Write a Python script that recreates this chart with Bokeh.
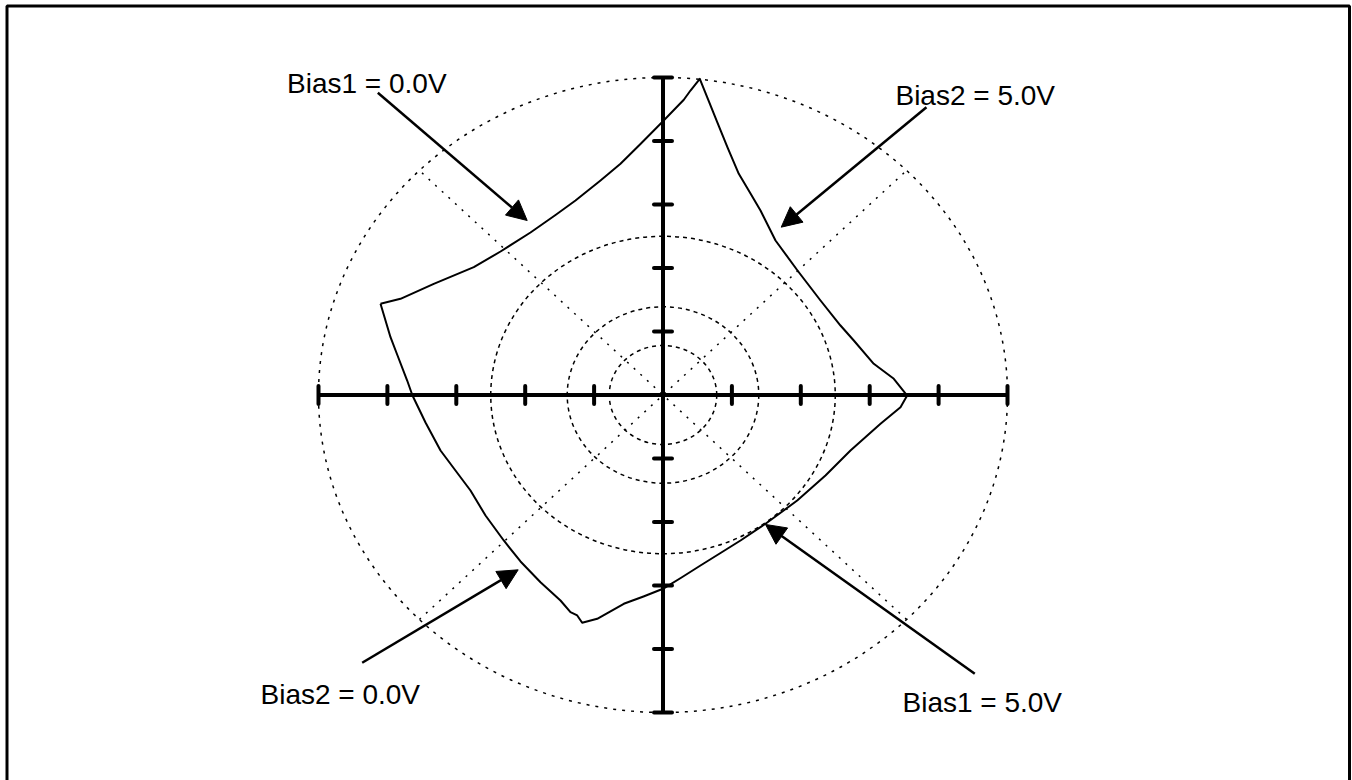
import math
from bokeh.plotting import figure
from bokeh.models import Range1d, Arrow, NormalHead, ColumnDataSource
from bokeh.core.properties import value
from bokeh.embed import file_html
from bokeh.resources import INLINE

# ---------------- data ----------------
ring_radii = [0.78, 1.39, 2.5, 5.0]
ring_dash = ["4 4", "4 4", "4 4", "3 6"]
axis_limit = 5
tick_vals = [-5, -4, -3, -2, -1, 1, 2, 3, 4, 5]
diag_angles_deg = [45, 135]

# closed response curve (x, y in chart units)
seg_a_x = [-4.10, -3.81, -3.327, -2.746, -2.358, -1.923, -1.560, -1.270, -0.907, -0.617,
           -0.327, -0.036, 0.302, 0.399, 0.534]
seg_a_y = [1.436, 1.515, 1.751, 2.013, 2.260, 2.559, 2.835, 3.063, 3.378, 3.641,
           3.953, 4.271, 4.649, 4.795, 4.980]
seg_b_x = [0.660, 0.787, 0.936, 1.100, 1.270, 1.415, 1.633, 1.952, 2.286, 2.576, 2.769,
           3.059, 3.350, 3.544]
seg_b_y = [4.638, 4.296, 3.898, 3.483, 3.173, 2.906, 2.433, 1.961, 1.488, 1.094, 0.858,
           0.491, 0.255, -0.008]
seg_c_x = [3.447, 3.157, 2.721, 2.358, 1.948, 1.488, 1.125, 0.835, 0.544, 0.269, 0.0,
           -0.283, -0.569, -0.955, -1.173]
seg_c_y = [-0.192, -0.454, -0.874, -1.268, -1.662, -2.028, -2.291, -2.488, -2.685, -2.874,
           -3.052, -3.173, -3.288, -3.524, -3.587]
seg_d_x = [-1.245, -1.343, -1.488, -1.778, -2.068, -2.311, -2.576, -2.794, -3.012, -3.229,
           -3.447, -3.636, -3.713, -3.853, -3.955, -4.10]
seg_d_y = [-3.472, -3.420, -3.236, -2.948, -2.622, -2.291, -1.898, -1.504, -1.189, -0.874,
           -0.433, -0.008, 0.228, 0.622, 0.910, 1.436]

labels = ["Bias1 = 0.0V", "Bias2 = 5.0V", "Bias2 = 0.0V", "Bias1 = 5.0V"]
label_x = [-5.457, 3.374, -5.842, 3.476]
label_y = [4.898, 4.717, -4.717, -4.838]
arrow_x0 = [-4.139, 3.824, -4.366, 4.525]
arrow_y0 = [4.759, 4.532, -4.217, -4.391]
arrow_x1 = [-1.971, 1.716, -2.102, 1.488]
arrow_y1 = [2.748, 2.643, -2.753, -2.039]

# ---------------- figure ----------------
W, H = 1352, 780
cx, cy = 662.5, 394.5   # centre in pixels
ux, uy = 68.9, 63.5     # pixels per unit

p = figure(width=W, height=H, output_backend="svg", toolbar_location=None,
           x_range=Range1d(-cx / ux, (W - cx) / ux),
           y_range=Range1d(-(H - cy) / uy, cy / uy),
           x_axis_location=None, y_axis_location=None,
           min_border=0, min_border_left=0, min_border_right=0,
           min_border_top=0, min_border_bottom=0,
           outline_line_color=None, background_fill_color="white",
           border_fill_color="white")
p.grid.visible = False

# frame border (bottom edge lies below the visible window)
x0 = p.x_range.start
y1 = p.y_range.end
p.quad(left=[x0 + 6.5 / ux], right=[x0 + 1349 / ux], top=[y1 - 5.5 / uy], bottom=[-8],
       fill_color=None, line_color="black", line_width=3)

# rings
for r, d in zip(ring_radii, ring_dash):
    p.ellipse(x=[0], y=[0], width=[2 * r], height=[2 * r], fill_color=None,
              line_color="black", line_width=1.5, line_dash=d)

# diagonals
for a in diag_angles_deg:
    t = math.radians(a)
    dx, dy = axis_limit * math.cos(t), axis_limit * math.sin(t)
    p.segment(x0=[-dx], y0=[-dy], x1=[dx], y1=[dy], line_color="black",
              line_width=1.5, line_dash="2 7")

# axes
p.segment(x0=[-axis_limit, 0], y0=[0, -axis_limit], x1=[axis_limit, 0], y1=[0, axis_limit],
          line_color="black", line_width=4)
p.segment(x0=tick_vals, y0=[-9 / uy] * len(tick_vals), x1=tick_vals, y1=[9 / uy] * len(tick_vals),
          line_color="black", line_width=4, line_cap="round")
p.segment(x0=[-9 / ux] * len(tick_vals), y0=tick_vals, x1=[9 / ux] * len(tick_vals), y1=tick_vals,
          line_color="black", line_width=4, line_cap="round")

# curve
cxs = seg_a_x + seg_b_x + seg_c_x + seg_d_x
cys = seg_a_y + seg_b_y + seg_c_y + seg_d_y
p.line(cxs, cys, line_color="black", line_width=2, line_join="round")

# arrows
for xa, ya, xb, yb in zip(arrow_x0, arrow_y0, arrow_x1, arrow_y1):
    p.add_layout(Arrow(x_start=xa, y_start=ya, x_end=xb, y_end=yb, line_width=2.5,
                       line_color="black",
                       end=NormalHead(size=20, fill_color="black", line_color="black",
                                      line_width=1)))

# labels
src = ColumnDataSource(dict(x=label_x, y=label_y, t=labels))
p.text(x="x", y="y", text="t", source=src, text_font=value("Liberation Sans"),
       text_font_size="28px", text_color="black", text_baseline="alphabetic",
       text_align="left")

open("out.html", "w").write(file_html(p, INLINE))
